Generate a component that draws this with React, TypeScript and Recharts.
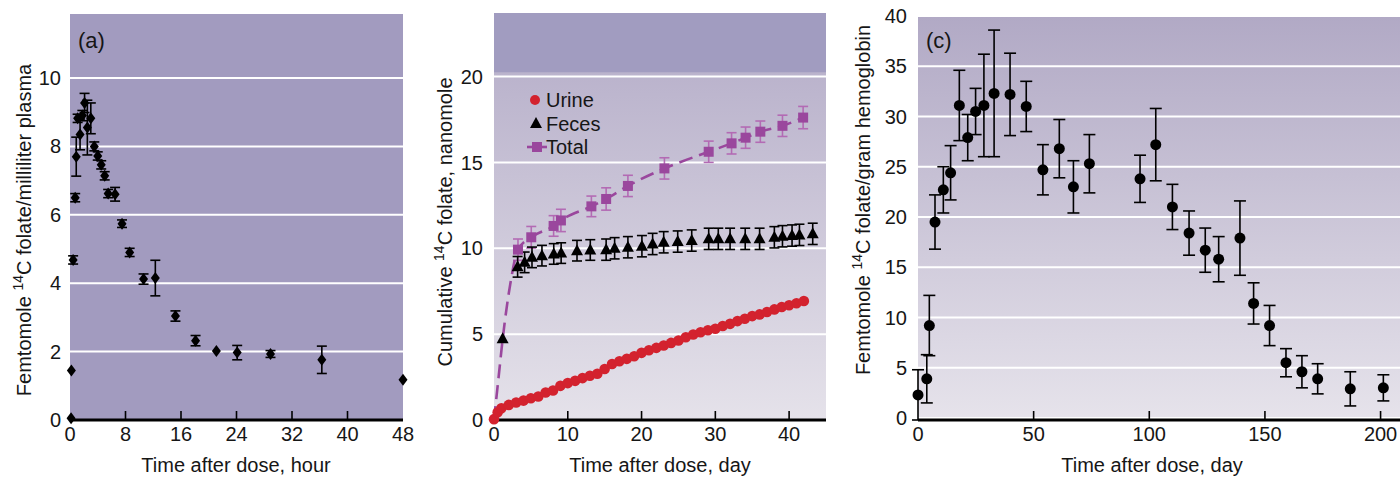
import React from 'react'
import {
  ComposedChart,
  ScatterChart,
  Scatter,
  Line,
  XAxis,
  YAxis,
  CartesianGrid,
  ErrorBar,
  ReferenceArea,
} from 'recharts'

const FONT = '"Liberation Sans", Arial, Helvetica, sans-serif'
const INK = '#161616'

// (a) plasma, hours after dose
const plasmaHours = [0.15, 0.2, 0.45, 0.75, 0.9, 1.1, 1.45, 1.78, 2.1, 2.5, 3.0, 3.5, 4.0, 4.5, 5.0, 5.5, 6.5, 7.5, 8.6, 10.6, 12.3, 15.2, 18.1, 21.1, 24.1, 28.9, 36.3, 48]
const plasmaValues = [0.05, 1.45, 4.68, 6.5, 7.7, 8.82, 8.35, 8.9, 9.27, 8.55, 8.82, 8.0, 7.72, 7.46, 7.14, 6.62, 6.6, 5.74, 4.9, 4.12, 4.15, 3.04, 2.32, 2.02, 1.97, 1.93, 1.76, 1.18]
const plasmaErr = [null, null, 0.12, 0.12, 0.57, 0.12, 0.45, 0.15, 0.28, 0.8, 0.45, 0.13, 0.12, 0.12, 0.12, 0.12, 0.2, 0.11, 0.12, 0.15, 0.52, 0.15, 0.15, null, 0.21, 0.1, 0.4, null]
const plasmaXTicks = [0, 8, 16, 24, 32, 40, 48]
const plasmaYTicks = [0, 2, 4, 6, 8, 10]

// (b) cumulative excretion, days after dose
const urineDays = [0, 0.5, 1, 2, 3, 4, 5, 6, 7, 8, 9, 10, 11, 12, 13, 14, 15, 16, 17, 18, 19, 20, 21, 22, 23, 24, 25, 26, 27, 28, 29, 30, 31, 32, 33, 34, 35, 36, 37, 38, 39, 40, 41, 42]
const urineValues = [0.05, 0.45, 0.68, 0.88, 1.02, 1.13, 1.27, 1.37, 1.6, 1.72, 1.99, 2.15, 2.28, 2.44, 2.58, 2.69, 2.97, 3.26, 3.42, 3.56, 3.71, 3.91, 4.06, 4.2, 4.34, 4.49, 4.63, 4.82, 4.98, 5.11, 5.23, 5.31, 5.47, 5.6, 5.76, 5.9, 6.05, 6.15, 6.29, 6.44, 6.58, 6.68, 6.8, 6.93]

const fecesDays = [1.17, 3.2, 4.15, 5.15, 6.5, 8.1, 9.1, 11.25, 13.05, 15.2, 16.35, 18.15, 20.05, 21.5, 23.0, 24.9, 26.8, 29.1, 30.4, 32.0, 34.05, 36.0, 38.0, 39.1, 40.4, 41.4, 43.2]
const fecesValues = [4.73, 8.92, 9.18, 9.47, 9.57, 9.67, 9.72, 9.86, 9.9, 9.92, 10.0, 10.06, 10.12, 10.25, 10.35, 10.39, 10.45, 10.55, 10.55, 10.55, 10.55, 10.55, 10.64, 10.7, 10.74, 10.78, 10.84]
const fecesErr = [null, 0.6, 0.6, 0.6, 0.6, 0.6, 0.6, 0.6, 0.6, 0.62, 0.62, 0.62, 0.62, 0.62, 0.62, 0.62, 0.62, 0.62, 0.62, 0.62, 0.62, 0.62, 0.62, 0.62, 0.62, 0.62, 0.62]

const totalDays = [0, 0.6, 1.2, 2.2, 3.25, 5.05, 8.08, 9.07, 13.2, 15.2, 18.15, 23.1, 29.1, 32.2, 34.1, 36.1, 39.1, 41.9]
const totalValues = [0, 2.4, 4.8, 7.9, 9.92, 10.64, 11.3, 11.62, 12.44, 12.87, 13.63, 14.65, 15.62, 16.11, 16.44, 16.79, 17.13, 17.61]
const totalErr = [null, null, null, null, 0.62, 0.63, 0.6, 0.65, 0.6, 0.65, 0.62, 0.62, 0.62, 0.62, 0.62, 0.62, 0.62, 0.65]

const excretionXTicks = [0, 10, 20, 30, 40]
const excretionYTicks = [0, 5, 10, 15, 20]

// (c) red cells, days after dose
const hbDays = [0, 3.8, 4.9, 7.35, 10.95, 14.1, 17.87, 21.5, 24.9, 28.5, 32.9, 39.8, 46.8, 54.0, 61.1, 67.2, 74.1, 96.0, 102.8, 110, 117.2, 124.2, 130, 139.2, 145.1, 152, 159.1, 166, 172.8, 186.9, 201.2]
const hbValues = [2.3, 3.9, 9.2, 19.5, 22.7, 24.4, 31.1, 27.9, 30.5, 31.1, 32.3, 32.2, 31.0, 24.7, 26.8, 23.0, 25.3, 23.8, 27.2, 21.0, 18.4, 16.7, 15.8, 17.9, 11.4, 9.2, 5.5, 4.6, 3.9, 2.9, 3.0]
const hbErr = [2.5, 2.4, 3.0, 2.7, 2.3, 2.7, 3.5, 2.3, 2.3, 5.1, 6.3, 4.1, 2.5, 2.5, 2.9, 2.6, 2.9, 2.35, 3.6, 2.25, 2.2, 2.2, 2.25, 3.7, 2.05, 2.0, 1.4, 1.6, 1.5, 1.7, 1.3]
const hbXTicks = [0, 50, 100, 150, 200]
const hbYTicks = [0, 5, 10, 15, 20, 25, 30, 35, 40]

type Pt = { x: number; y: number; err: number | null }

const toPoints = (xs: number[], ys: number[], errs?: (number | null)[]): Pt[] =>
  xs.map((x, i) => ({ x, y: ys[i], err: errs ? errs[i] : null }))

const plasmaData = toPoints(plasmaHours, plasmaValues, plasmaErr)
const urineData = toPoints(urineDays, urineValues)
const fecesData = toPoints(fecesDays, fecesValues, fecesErr)
const totalData = toPoints(totalDays, totalValues, totalErr)
const hbData = toPoints(hbDays, hbValues, hbErr)

const RED = '#d3222e'
const PURPLE = '#9a479d'
const PURPLE_ERR = '#b36bb4'

// x ticks point up into the plot, labels sit under the axis
const makeXTick = (max: number) => (props: any) => {
  const { x, y, payload } = props
  const v = payload.value
  return (
    <g>
      {v > 0 && v < max && <line x1={x} x2={x} y1={y} y2={y - 9} stroke="#000" strokeWidth={1.6} />}
      <text x={x} y={y + 21} textAnchor="middle" fontSize={20} fill={INK} fontFamily={FONT}>
        {v}
      </text>
    </g>
  )
}

const Diamond = (props: any) => {
  const { cx, cy } = props
  return <polygon points={`${cx},${cy - 6} ${cx + 4.5},${cy} ${cx},${cy + 6} ${cx - 4.5},${cy}`} fill="#000" />
}

const Triangle = (props: any) => {
  const { cx, cy } = props
  return <polygon points={`${cx},${cy - 6.5} ${cx + 6},${cy + 4.5} ${cx - 6},${cy + 4.5}`} fill="#000" />
}

const RedDot = (props: any) => <circle cx={props.cx} cy={props.cy} r={5.3} fill={RED} />

const BlackDot = (props: any) => <circle cx={props.cx} cy={props.cy} r={5.5} fill="#000" />

const TotalSquare = (props: any) => {
  const { cx, cy, payload, index } = props
  if (payload.err == null) return <g key={`sq-${index}`} />
  return <rect key={`sq-${index}`} x={cx - 5} y={cy - 5} width={10} height={10} fill={PURPLE} />
}

const yTickStyle = { fontSize: 20, fill: INK, fontFamily: FONT }
const axisLine = { stroke: '#000', strokeWidth: 3 }

function AxisTitle({ x, y, children }: { x: number; y: number; children: React.ReactNode }) {
  return (
    <text x={x} y={y} textAnchor="middle" fontSize={20} fill={INK} fontFamily={FONT}>
      {children}
    </text>
  )
}

function VerticalTitle({ x, y, before, after }: { x: number; y: number; before: string; after: string }) {
  return (
    <text x={x} y={y} textAnchor="middle" fontSize={20} fill={INK} fontFamily={FONT} transform={`rotate(-90, ${x}, ${y})`}>
      {before}
      <tspan fontSize={14} dy={-8}>14</tspan>
      <tspan dy={8}>{after}</tspan>
    </text>
  )
}

function PanelTag({ x, label }: { x: number; label: string }) {
  return (
    <text x={x} y={48} fontSize={22} fill={INK} fontFamily={FONT}>
      {label}
    </text>
  )
}

function PlasmaPanel() {
  return (
    <ScatterChart width={420} height={477} margin={{ top: 13, right: 17, bottom: 0, left: 10 }}>
      <CartesianGrid vertical={false} stroke="#ffffff" strokeWidth={2} fill="#a29bbf" fillOpacity={1} />
      <XAxis
        type="number"
        dataKey="x"
        domain={[0, 48]}
        ticks={plasmaXTicks}
        interval={0}
        height={57}
        tickSize={0}
        tickMargin={0}
        tickLine={false}
        axisLine={axisLine}
        tick={makeXTick(48)}
      />
      <YAxis
        type="number"
        domain={[0, 11.9]}
        ticks={plasmaYTicks}
        interval={0}
        width={60}
        tickSize={0}
        tickMargin={9}
        tickLine={false}
        axisLine={false}
        tick={yTickStyle}
      />
      <Scatter data={plasmaData} dataKey="y" shape={Diamond} isAnimationActive={false}>
        <ErrorBar dataKey="err" direction="y" width={5} stroke="#000" strokeWidth={1.6} />
      </Scatter>
      <PanelTag x={78} label="(a)" />
      <VerticalTitle x={31} y={230} before="Femtomole " after="C folate/milliliter plasma" />
      <AxisTitle x={236} y={472}>Time after dose, hour</AxisTitle>
    </ScatterChart>
  )
}

function ExcretionPanel() {
  return (
    <ComposedChart width={420} height={477} margin={{ top: 13, right: 14, bottom: 0, left: 14 }}>
      <defs>
        <linearGradient id="bgB" x1="0" y1="0" x2="0" y2="1">
          <stop offset="0%" stopColor="#b3abc7" />
          <stop offset="100%" stopColor="#e5e2ea" />
        </linearGradient>
      </defs>
      <CartesianGrid vertical={false} stroke="#ffffff" strokeWidth={2} fill="url(#bgB)" fillOpacity={1} />
      <ReferenceArea y1={20.25} y2={23.7} fill="#a19cc0" fillOpacity={1} stroke="none" ifOverflow="hidden" />
      <XAxis
        type="number"
        dataKey="x"
        domain={[0, 45]}
        ticks={excretionXTicks}
        interval={0}
        height={57}
        tickSize={0}
        tickMargin={0}
        tickLine={false}
        axisLine={axisLine}
        tick={makeXTick(45)}
      />
      <YAxis
        type="number"
        domain={[0, 23.7]}
        ticks={excretionYTicks}
        interval={0}
        width={60}
        tickSize={0}
        tickMargin={11}
        tickLine={false}
        axisLine={false}
        tick={yTickStyle}
      />
      <Line
        data={totalData}
        dataKey="y"
        type="monotone"
        stroke={PURPLE}
        strokeWidth={2.6}
        strokeDasharray="14 7"
        dot={TotalSquare}
        activeDot={false}
        isAnimationActive={false}
      >
        <ErrorBar dataKey="err" direction="y" width={5} stroke={PURPLE_ERR} strokeWidth={1.6} />
      </Line>
      <Scatter data={fecesData} dataKey="y" shape={Triangle} isAnimationActive={false}>
        <ErrorBar dataKey="err" direction="y" width={5} stroke="#000" strokeWidth={1.6} />
      </Scatter>
      <Scatter data={urineData} dataKey="y" shape={RedDot} isAnimationActive={false} />

      <g fontFamily={FONT} fontSize={20} fill={INK}>
        <circle cx={115} cy={100} r={5} fill={RED} />
        <text x={126} y={107}>Urine</text>
        <polygon points="116,117 122,128 110,128" fill="#000" />
        <text x={126} y={131}>Feces</text>
        <line x1={107} x2={127} y1={147} y2={147} stroke={PURPLE} strokeWidth={2.6} />
        <rect x={112} y={142} width={10} height={10} fill={PURPLE} />
        <text x={126} y={154}>Total</text>
      </g>

      <PanelTag x={83} label="(b)" />
      <VerticalTitle x={32} y={222} before="Cumulative " after="C folate, nanomole" />
      <AxisTitle x={240} y={472}>Time after dose, day</AxisTitle>
    </ComposedChart>
  )
}

function HemoglobinPanel() {
  return (
    <ScatterChart width={560} height={477} margin={{ top: 15, right: 0, bottom: 0, left: 18 }}>
      <defs>
        <linearGradient id="bgC" x1="0" y1="0" x2="0" y2="1">
          <stop offset="0%" stopColor="#b1a9c5" />
          <stop offset="100%" stopColor="#e6e3eb" />
        </linearGradient>
      </defs>
      <CartesianGrid vertical={false} stroke="#ffffff" strokeWidth={2} fill="url(#bgC)" fillOpacity={1} />
      <XAxis
        type="number"
        dataKey="x"
        domain={[0, 208.4]}
        ticks={hbXTicks}
        interval={0}
        height={57}
        tickSize={0}
        tickMargin={0}
        tickLine={false}
        axisLine={axisLine}
        tick={makeXTick(208.4)}
      />
      <YAxis
        type="number"
        domain={[0, 40.1]}
        ticks={hbYTicks}
        interval={0}
        width={60}
        tickSize={0}
        tickMargin={11}
        tickLine={false}
        axisLine={false}
        tick={yTickStyle}
      />
      <Scatter data={hbData} dataKey="y" shape={BlackDot} isAnimationActive={false}>
        <ErrorBar dataKey="err" direction="y" width={6} stroke="#000" strokeWidth={1.6} />
      </Scatter>
      <PanelTag x={86} label="(c)" />
      <VerticalTitle x={30} y={200} before="Femtomole " after="C folate/gram hemoglobin" />
      <AxisTitle x={312} y={472}>Time after dose, day</AxisTitle>
    </ScatterChart>
  )
}

export default function App() {
  return (
    <div style={{ position: 'absolute', left: 0, top: 0, width: 1400, height: 477, background: '#fff', overflow: 'hidden' }}>
      <div style={{ position: 'absolute', left: 0, top: 0 }}>
        <PlasmaPanel />
      </div>
      <div style={{ position: 'absolute', left: 420, top: 0 }}>
        <ExcretionPanel />
      </div>
      <div style={{ position: 'absolute', left: 840, top: 0 }}>
        <HemoglobinPanel />
      </div>
    </div>
  )
}
